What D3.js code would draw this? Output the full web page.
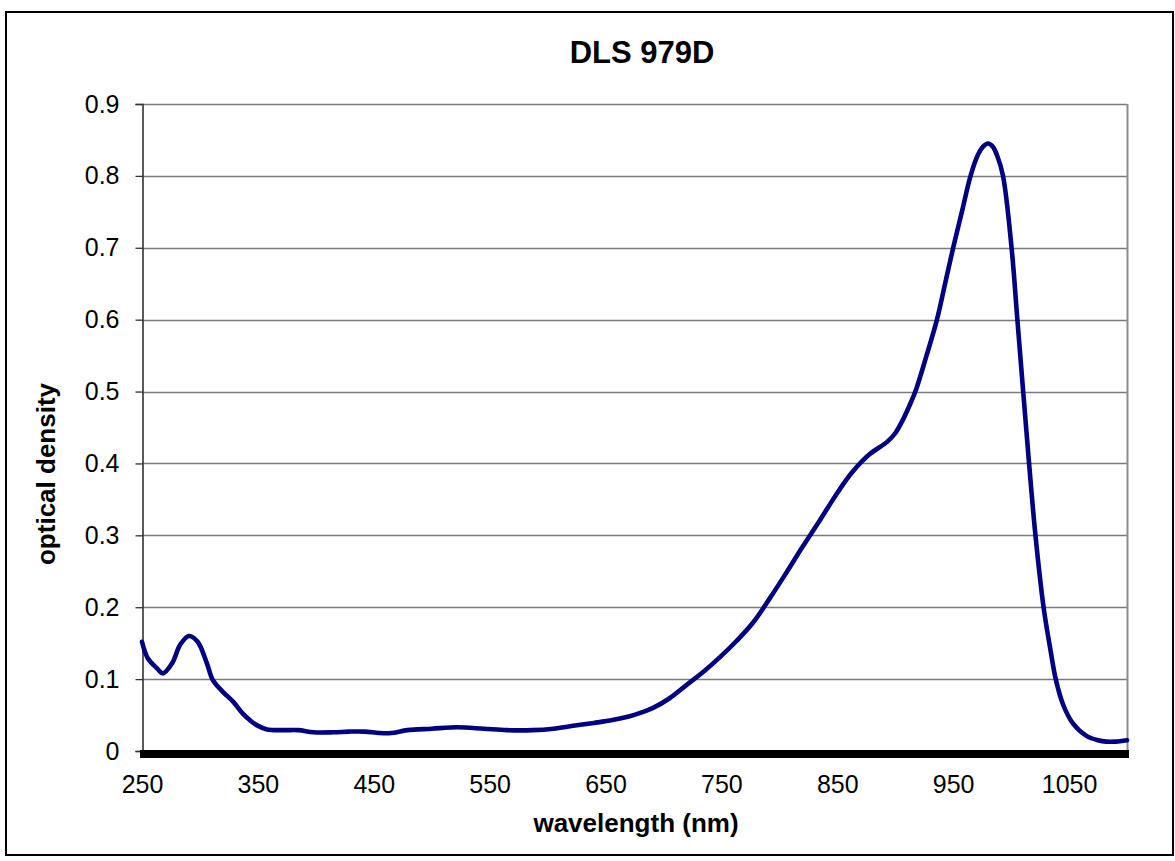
<!DOCTYPE html>
<html>
<head>
<meta charset="utf-8">
<script src="https://cdn.jsdelivr.net/npm/d3@7"></script>
<style>
  html, body { margin: 0; padding: 0; background: #fff; }
  svg { display: block; }
  text { font-family: "Liberation Sans", Arial, sans-serif; }
</style>
</head>
<body>
<svg id="chart" width="1175" height="861"></svg>
<script>
// ---- data ----
const title = "DLS 979D";
const xLabel = "wavelength (nm)";
const yLabel = "optical density";
const xTicks = [250, 350, 450, 550, 650, 750, 850, 950, 1050];
const yTicks = [0, 0.1, 0.2, 0.3, 0.4, 0.5, 0.6, 0.7, 0.8, 0.9];
const wavelength = [250, 255, 263, 268, 276, 283, 290.5, 298, 306, 311, 320, 329, 337, 343, 349, 358, 372, 385, 398, 415, 429, 442, 455, 465, 479, 500, 522, 545, 565, 587, 605, 622, 640, 656, 670, 680, 691, 705, 720, 735, 749, 763, 777, 792, 806, 820, 835, 850, 863, 878, 893, 900, 907, 913, 918, 927, 936, 943, 950, 957.5, 965, 971, 976, 980, 984, 988, 993, 1000.4, 1005.4, 1010.4, 1015.5, 1021, 1028, 1033.5, 1038.5, 1045, 1053.5, 1065, 1075, 1082, 1090, 1100];
const density = [0.152, 0.129, 0.115, 0.108, 0.122, 0.148, 0.160, 0.152, 0.122, 0.099, 0.082, 0.068, 0.052, 0.043, 0.036, 0.030, 0.029, 0.029, 0.026, 0.026, 0.027, 0.027, 0.025, 0.025, 0.029, 0.031, 0.033, 0.031, 0.029, 0.029, 0.031, 0.035, 0.039, 0.043, 0.048, 0.053, 0.060, 0.073, 0.092, 0.111, 0.131, 0.153, 0.178, 0.213, 0.248, 0.284, 0.321, 0.359, 0.388, 0.413, 0.430, 0.442, 0.462, 0.483, 0.503, 0.550, 0.600, 0.650, 0.700, 0.750, 0.800, 0.828, 0.841, 0.845, 0.841, 0.828, 0.800, 0.700, 0.600, 0.500, 0.400, 0.300, 0.200, 0.145, 0.100, 0.064, 0.038, 0.021, 0.015, 0.013, 0.013, 0.015];

// ---- layout ----
const svg = d3.select("#chart");
const L = 142, R = 1127, T = 104, B = 751;
const x = d3.scaleLinear().domain([250, 1100]).range([L, R]);
const y = d3.scaleLinear().domain([0, 0.9]).range([B, T]);

// outer frame
svg.append("rect")
  .attr("x", 6).attr("y", 12).attr("width", 1167).attr("height", 843)
  .attr("fill", "#fff").attr("stroke", "#000").attr("stroke-width", 2);

// gridlines
svg.append("g").selectAll("line")
  .data(yTicks.filter(d => d > 0))
  .join("line")
  .attr("x1", L).attr("x2", R)
  .attr("y1", d => Math.round(y(d)) + 0.5).attr("y2", d => Math.round(y(d)) + 0.5)
  .attr("stroke", "#7a7a7a").attr("stroke-width", 1.3);

// right plot-area edge
svg.append("line")
  .attr("x1", R + 0.5).attr("x2", R + 0.5).attr("y1", T).attr("y2", B)
  .attr("stroke", "#8c8c8c").attr("stroke-width", 2);

// y axis
const yAxis = d3.axisLeft(y).tickValues(yTicks).tickSize(7).tickPadding(16)
  .tickFormat(d => d === 0 ? "0" : d3.format(".1f")(d));
const gy = svg.append("g").attr("transform", `translate(${L + 0.5},0)`).call(yAxis);
gy.select(".domain").attr("stroke", "#333").attr("stroke-width", 1.6);
gy.selectAll(".tick line").attr("stroke", "#333").attr("stroke-width", 1.3);
gy.selectAll(".tick text").attr("font-size", 25).attr("fill", "#000")
  .style("font-family", '"Liberation Sans", Arial, sans-serif');

// x axis (thick black bar at zero)
const xAxis = d3.axisBottom(x).tickValues(xTicks).tickSize(0).tickPadding(24)
  .tickFormat(d3.format("d"));
const gx = svg.append("g").attr("transform", `translate(0,${B})`).call(xAxis);
gx.select(".domain").remove();
gx.selectAll(".tick text").attr("font-size", 25).attr("fill", "#000")
  .style("font-family", '"Liberation Sans", Arial, sans-serif');
svg.append("rect")
  .attr("x", x(250) - 2).attr("y", B - 1)
  .attr("width", x(1100) - x(250) + 4).attr("height", 8)
  .attr("fill", "#000");

// data line
const line = d3.line()
  .x((d, i) => x(wavelength[i]))
  .y(d => y(d))
  .curve(d3.curveCatmullRom.alpha(0.5));
svg.append("path")
  .datum(density)
  .attr("d", line)
  .attr("fill", "none")
  .attr("stroke", "#000080")
  .attr("stroke-width", 4.6)
  .attr("stroke-linejoin", "round")
  .attr("stroke-linecap", "round");

// titles
svg.append("text").attr("x", 642).attr("y", 63).attr("text-anchor", "middle")
  .attr("font-size", 31).attr("font-weight", "bold").text(title);
svg.append("text").attr("x", 636).attr("y", 832).attr("text-anchor", "middle")
  .attr("font-size", 26).attr("font-weight", "bold").text(xLabel);
svg.append("text").attr("transform", "translate(55,474) rotate(-90)")
  .attr("text-anchor", "middle")
  .attr("font-size", 26).attr("font-weight", "bold").text(yLabel);
</script>
</body>
</html>
